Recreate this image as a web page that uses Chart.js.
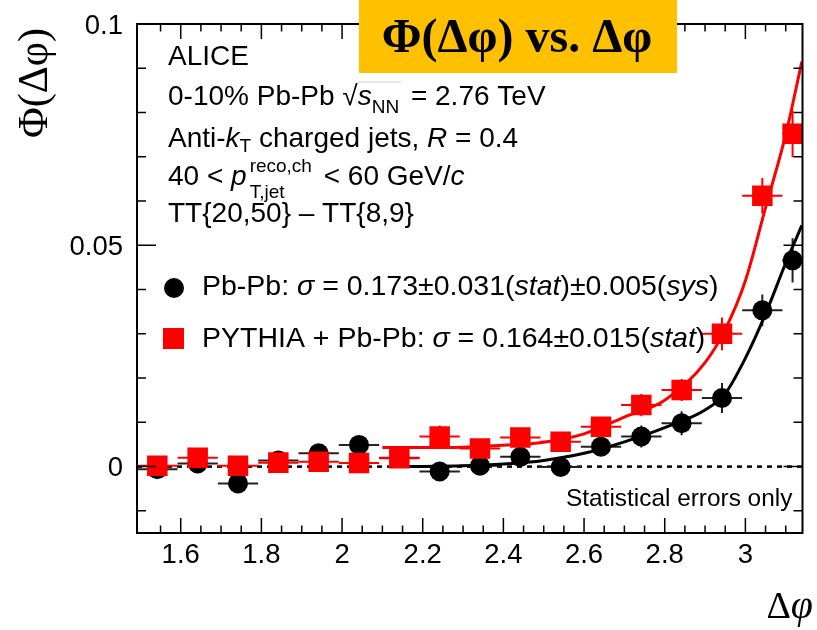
<!DOCTYPE html>
<html>
<head>
<meta charset="utf-8">
<script src="https://cdn.jsdelivr.net/npm/chart.js@4.4.1/dist/chart.umd.min.js"></script>
<style>
  html, body { margin: 0; padding: 0; background: #fff; }
  canvas { display: block; }
</style>
</head>
<body>
<canvas id="phi-chart" width="817" height="630"></canvas>
<script>
// bin centres (Δφ) and half widths
const binCenters = [1.542, 1.642, 1.742, 1.842, 1.942, 2.042, 2.142, 2.242, 2.342,
                    2.442, 2.542, 2.642, 2.742, 2.842, 2.942, 3.042, 3.117];
const binHalfWidths = [0.05, 0.05, 0.05, 0.05, 0.05, 0.05, 0.05, 0.05, 0.05,
                       0.05, 0.05, 0.05, 0.05, 0.05, 0.05, 0.05, 0.025];

// Pb-Pb (black circles)
const pbpbValues = [-0.0006, 0.0007, -0.0038, 0.0014, 0.0030, 0.0049, 0.0020, -0.0011, 0.0002,
                    0.0022, -0.0001, 0.0045, 0.0068, 0.0098, 0.0155, 0.0353, 0.0466];
const pbpbErrors = [0.0012, 0.0012, 0.0014, 0.0012, 0.0012, 0.0014, 0.0014, 0.0014, 0.0015,
                    0.0017, 0.0017, 0.0020, 0.0025, 0.0027, 0.0034, 0.0036, 0.0050];

// PYTHIA + Pb-Pb (red squares)
const pythiaValues = [0.0002, 0.0020, 0.0002, 0.0009, 0.0011, 0.0008, 0.0019, 0.0068, 0.0041,
                      0.0066, 0.0056, 0.0090, 0.0139, 0.0173, 0.0300, 0.0612, 0.0752];
const pythiaErrors = [0.0012, 0.0015, 0.0012, 0.0012, 0.0012, 0.0012, 0.0014, 0.0025, 0.0015,
                      0.0017, 0.0015, 0.0020, 0.0025, 0.0025, 0.0037, 0.0040, 0.0053];

// fit curves
const fitPbpbX = [2.15, 2.30, 2.40, 2.50, 2.60, 2.70, 2.80, 2.90, 2.95, 3.00, 3.05, 3.10, 3.14];
const fitPbpbY = [0.0000, 0.0002, 0.0006, 0.0014, 0.0030, 0.0056, 0.0088, 0.0128, 0.0165, 0.0245, 0.0345, 0.0460, 0.0545];
const fitPythiaX = [2.10, 2.20, 2.30, 2.40, 2.50, 2.60, 2.70, 2.80, 2.90, 2.95, 3.00, 3.05, 3.10, 3.14];
const fitPythiaY = [0.0043, 0.0043, 0.0044, 0.0048, 0.0055, 0.0074, 0.0112, 0.0150, 0.0235, 0.0310, 0.0420, 0.0585, 0.0750, 0.0915];

// axes
const xMajorTicks = [1.6, 1.8, 2.0, 2.2, 2.4, 2.6, 2.8, 3.0];
const yMajorTicks = [0, 0.05, 0.1];
const xRange = [1.4916, 3.1416];
const yRange = [-0.015, 0.1];

const SANS = '"Liberation Sans", Arial, Helvetica, sans-serif';
const SERIF = '"Liberation Serif", "Times New Roman", serif';

const toPoints = (xs, ys) => xs.map((x, i) => ({ x: x, y: ys[i] }));

// parts: {t, italic, size, dy, keep (no advance), gap (extra advance)}
function drawRich(ctx, x, y, parts, baseSize) {
  let cx = x;
  parts.forEach((p) => {
    const size = p.size || baseSize;
    ctx.font = (p.italic ? "italic " : "") + size + "px " + SANS;
    ctx.fillText(p.t, cx, y + (p.dy || 0));
    if (!p.keep) cx += ctx.measureText(p.t).width + (p.gap || 0);
  });
  return cx;
}

const errorBars = {
  id: "errorBars",
  beforeDatasetsDraw(chart) {
    const { ctx, chartArea, scales } = chart;
    const xs = scales.x, ys = scales.y;
    ctx.save();
    ctx.beginPath();
    ctx.rect(chartArea.left, chartArea.top, chartArea.right - chartArea.left, chartArea.bottom - chartArea.top);
    ctx.clip();

    // dashed zero line
    ctx.strokeStyle = "#000";
    ctx.lineWidth = 2.5;
    ctx.setLineDash([5, 5]);
    ctx.beginPath();
    ctx.moveTo(chartArea.left, ys.getPixelForValue(0));
    ctx.lineTo(chartArea.right, ys.getPixelForValue(0));
    ctx.stroke();
    ctx.setLineDash([]);

    const series = [
      { vals: pbpbValues, errs: pbpbErrors, color: "#222" },
      { vals: pythiaValues, errs: pythiaErrors, color: "#ff0000" },
    ];
    ctx.lineWidth = 2;
    series.forEach((s) => {
      ctx.strokeStyle = s.color;
      binCenters.forEach((x, i) => {
        const px = xs.getPixelForValue(x);
        const py = ys.getPixelForValue(s.vals[i]);
        ctx.beginPath();
        ctx.moveTo(xs.getPixelForValue(x - binHalfWidths[i]), py);
        ctx.lineTo(xs.getPixelForValue(x + binHalfWidths[i]), py);
        ctx.moveTo(px, ys.getPixelForValue(s.vals[i] - s.errs[i]));
        ctx.lineTo(px, ys.getPixelForValue(s.vals[i] + s.errs[i]));
        ctx.stroke();
      });
    });
    ctx.restore();
  },
};

const frameAndText = {
  id: "frameAndText",
  afterDraw(chart) {
    const { ctx, chartArea, scales } = chart;
    const { left, right, top, bottom } = chartArea;
    const xs = scales.x, ys = scales.y;
    ctx.save();

    // frame + inward ticks on all sides
    ctx.strokeStyle = "#000";
    ctx.lineWidth = 2;
    ctx.strokeRect(left, top, right - left, bottom - top);
    ctx.lineWidth = 1.5;
    ctx.beginPath();
    for (let k = 31; k <= 62; k++) {
      const px = xs.getPixelForValue(k * 0.05);
      const len = k % 4 === 0 ? 15 : 7.5;
      ctx.moveTo(px, bottom); ctx.lineTo(px, bottom - len);
      ctx.moveTo(px, top); ctx.lineTo(px, top + len);
    }
    for (let k = -1; k <= 10; k++) {
      const py = ys.getPixelForValue(k * 0.01);
      const len = k % 5 === 0 ? 19 : 9;
      ctx.moveTo(left, py); ctx.lineTo(left + len, py);
      ctx.moveTo(right, py); ctx.lineTo(right - len, py);
    }
    ctx.stroke();

    // header text
    ctx.fillStyle = "#000";
    ctx.textAlign = "left";
    ctx.textBaseline = "alphabetic";
    const tx = 168;
    drawRich(ctx, tx, 65, [{ t: "ALICE" }], 28);
    let cx = drawRich(ctx, tx, 105, [{ t: "0-10% Pb-Pb " }, { t: "\u221A" }], 28);
    const sx = cx;
    cx = drawRich(ctx, cx, 105, [{ t: "s", italic: true }, { t: "NN", size: 19, dy: 8 }], 28);
    ctx.strokeStyle = "#ccc";
    ctx.lineWidth = 1;
    ctx.beginPath();
    ctx.moveTo(sx, 82); ctx.lineTo(cx + 2, 82);
    ctx.stroke();
    drawRich(ctx, cx + 4, 105, [{ t: " = 2.76 TeV" }], 28);
    drawRich(ctx, tx, 147, [
      { t: "Anti-" }, { t: "k", italic: true }, { t: "T", size: 19, dy: 5 },
      { t: " charged jets, " }, { t: "R", italic: true }, { t: " = 0.4" },
    ], 28);
    drawRich(ctx, tx, 185, [
      { t: "40 < " }, { t: "p", italic: true, gap: 3 },
      { t: "T,jet", size: 19, dy: 13, keep: true }, { t: "reco,ch", size: 19, dy: -13, gap: 4 },
      { t: " < 60 GeV/" }, { t: "c", italic: true },
    ], 28);
    drawRich(ctx, tx, 222, [{ t: "TT{20,50} \u2013 TT{8,9}" }], 28);

    // legend
    ctx.fillStyle = "#000";
    ctx.beginPath();
    ctx.arc(174, 288, 10, 0, Math.PI * 2);
    ctx.fill();
    drawRich(ctx, 202, 295, [
      { t: "Pb-Pb: " }, { t: "\u03C3", italic: true }, { t: " = 0.173\u00B10.031(" },
      { t: "stat", italic: true }, { t: ")\u00B10.005(" }, { t: "sys", italic: true }, { t: ")" },
    ], 28.5);
    ctx.fillStyle = "#ff0000";
    ctx.fillRect(163, 328, 21, 21);
    ctx.fillStyle = "#000";
    drawRich(ctx, 202, 347, [
      { t: "PYTHIA + Pb-Pb: " }, { t: "\u03C3", italic: true }, { t: " = 0.164\u00B10.015(" },
      { t: "stat", italic: true }, { t: ")" },
    ], 28.5);

    ctx.font = "24.4px " + SANS;
    ctx.fillText("Statistical errors only", 566, 506);

    // axis titles
    ctx.save();
    ctx.translate(36, 83);
    ctx.rotate(-Math.PI / 2);
    ctx.textAlign = "center";
    ctx.textBaseline = "middle";
    ctx.font = "42px " + SERIF;
    ctx.fillText("\u03A6(\u0394\u03C6)", 0, 0);
    ctx.restore();

    ctx.font = "italic 40px " + SERIF;
    const phiW = ctx.measureText("\u03C6").width;
    ctx.textAlign = "right";
    ctx.fillText("\u03C6", 813, 618);
    ctx.font = "38px " + SERIF;
    ctx.fillText("\u0394", 813 - phiW, 618);

    // title box
    ctx.fillStyle = "#ffc000";
    ctx.fillRect(359, 0, 318, 73);
    ctx.fillStyle = "#000";
    ctx.textAlign = "center";
    ctx.font = "bold 48px " + SERIF;
    ctx.fillText("\u03A6(\u0394\u03C6) vs. \u0394\u03C6", 517, 52);

    ctx.restore();
  },
};

const canvas = document.getElementById("phi-chart");

new Chart(canvas, {
  type: "scatter",
  data: {
    datasets: [
      {
        label: "PYTHIA + Pb-Pb",
        data: toPoints(binCenters, pythiaValues),
        pointStyle: "rect",
        pointRadius: 14.5,
        backgroundColor: "#ff0000",
        borderWidth: 0,
        order: 1,
      },
      {
        label: "Pb-Pb",
        data: toPoints(binCenters, pbpbValues),
        pointStyle: "circle",
        pointRadius: 10,
        backgroundColor: "#000",
        borderWidth: 0,
        order: 2,
      },
      {
        label: "fit PYTHIA",
        data: toPoints(fitPythiaX, fitPythiaY),
        showLine: true,
        borderColor: "#ff0000",
        borderWidth: 3,
        pointRadius: 0,
        cubicInterpolationMode: "monotone",
        order: 3,
      },
      {
        label: "fit Pb-Pb",
        data: toPoints(fitPbpbX, fitPbpbY),
        showLine: true,
        borderColor: "#000",
        borderWidth: 3,
        pointRadius: 0,
        cubicInterpolationMode: "monotone",
        order: 4,
      },
    ],
  },
  options: {
    responsive: false,
    animation: false,
    devicePixelRatio: 1,
    layout: { padding: { top: 24, right: 3, left: 0, bottom: 0 } },
    plugins: { legend: { display: false }, tooltip: { enabled: false } },
    scales: {
      x: {
        type: "linear",
        min: xRange[0],
        max: xRange[1],
        afterBuildTicks: (s) => { s.ticks = xMajorTicks.map((v) => ({ value: v })); },
        afterFit: (s) => { s.height = 97; },
        grid: { display: false },
        border: { display: false },
        ticks: {
          color: "#000",
          font: { family: SANS, size: 27.5 },
          padding: -2,
          maxRotation: 0,
          autoSkip: false,
          callback: (v) => String(Math.round(v * 10) / 10),
        },
      },
      y: {
        type: "linear",
        min: yRange[0],
        max: yRange[1],
        afterBuildTicks: (s) => { s.ticks = yMajorTicks.map((v) => ({ value: v })); },
        afterFit: (s) => { s.width = 137; },
        grid: { display: false },
        border: { display: false },
        ticks: {
          color: "#000",
          font: { family: SANS, size: 27.5 },
          padding: 6,
          labelOffset: 2,
          autoSkip: false,
          callback: (v) => String(Math.round(v * 100) / 100),
        },
      },
    },
  },
  plugins: [errorBars, frameAndText],
});
</script>
</body>
</html>
